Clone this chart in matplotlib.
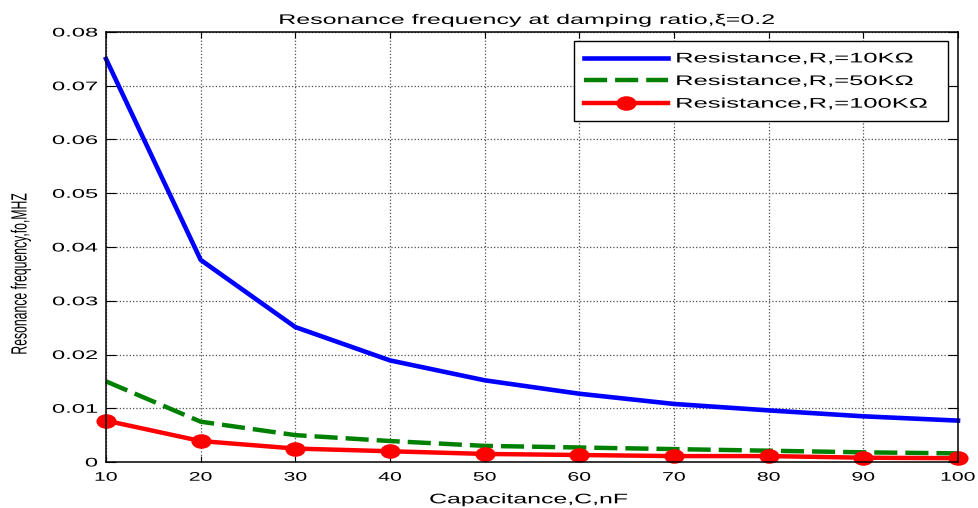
import matplotlib
matplotlib.use("Agg")
import matplotlib.pyplot as plt
from matplotlib.patheffects import AbstractPathEffect
from matplotlib.transforms import Affine2D
from matplotlib.path import Path
import numpy as np

# ---- data -------------------------------------------------------------
capacitance_nf = [10, 20, 30, 40, 50, 60, 70, 80, 90, 100]
freq_r10k = [0.0750, 0.0376, 0.0251, 0.0189, 0.0152, 0.0127, 0.0108, 0.0096, 0.0085, 0.0077]
freq_r50k = [0.0150, 0.0075, 0.0050, 0.0039, 0.0030, 0.0027, 0.0024, 0.0021, 0.0018, 0.0016]
freq_r100k = [0.0077, 0.0039, 0.0025, 0.0020, 0.0015, 0.0013, 0.0011, 0.0011, 0.0008, 0.0007]
series_labels = ["Resistance,R,=10K\u03a9", "Resistance,R,=50K\u03a9", "Resistance,R,=100K\u03a9"]
x_ticks = [10, 20, 30, 40, 50, 60, 70, 80, 90, 100]
y_ticks = [0, 0.01, 0.02, 0.03, 0.04, 0.05, 0.06, 0.07, 0.08]
y_tick_labels = ["0", "0.01", "0.02", "0.03", "0.04", "0.05", "0.06", "0.07", "0.08"]

plt.rcParams["font.family"] = ["Liberation Sans", "DejaVu Sans"]


class WideText(AbstractPathEffect):
    """Draw text glyphs widened horizontally about an anchor edge."""

    def __init__(self, factor=1.8, anchor="center"):
        super().__init__()
        self.factor = factor
        self.anchor = anchor

    def draw_path(self, renderer, gc, tpath, affine, rgbFace=None):
        if len(tpath.vertices) == 0:
            return
        ext = tpath.get_extents(affine)
        if self.anchor == "left":
            ax0 = ext.x0
        elif self.anchor == "right":
            ax0 = ext.x1
        else:
            ax0 = 0.5 * (ext.x0 + ext.x1)
        widen = Affine2D().translate(-ax0, 0).scale(self.factor, 1).translate(ax0, 0)
        renderer.draw_path(gc, tpath, affine + widen, rgbFace)


W, H = 979, 508
fig = plt.figure(figsize=(W / 100, H / 100), dpi=100)
fig.patch.set_facecolor("white")
ax = fig.add_axes([106 / W, 46 / H, 852 / W, 430 / H])

# slightly wide ellipse marker
circ = Path.unit_circle()
ellipse = Path(circ.vertices * np.array([1.45, 1.0]), circ.codes)

ax.plot(capacitance_nf, freq_r10k, color="#0000ff", lw=3.3, label=series_labels[0],
        clip_on=False)
ax.plot(capacitance_nf, freq_r50k, color="#008000", lw=3.2, linestyle=(0, (5.2, 1.8)),
        label=series_labels[1], clip_on=False)
ax.plot(capacitance_nf, freq_r100k, color="#ff0000", lw=3.2, marker=ellipse, ms=13,
        mew=1.5, mfc="#ff0000", mec="#ff0000", label=series_labels[2], clip_on=False)

ax.set_xlim(10, 100)
ax.set_ylim(0, 0.08)
ax.set_xticks(x_ticks)
ax.set_yticks(y_ticks, labels=y_tick_labels)

ax.grid(True, linestyle=":", color="0.3", linewidth=0.9)
ax.tick_params(direction="in", top=True, right=True, width=0.8, labelsize=9,
               color="black", labelcolor="black")
ax.tick_params(axis="x", length=4.3, pad=7)
ax.tick_params(axis="y", length=7, pad=6)
for sp in ax.spines.values():
    sp.set_linewidth(1.1)
    sp.set_color("black")

for lbl in ax.get_xticklabels():
    lbl.set_path_effects([WideText(1.7, "center")])
for lbl in ax.get_yticklabels():
    lbl.set_path_effects([WideText(1.9, "right")])

title = ax.set_title("Resonance frequency at damping ratio,\u03be=0.2", fontsize=10,
                     pad=5.8, x=0.4945)
title.set_path_effects([WideText(1.8, "center")])

xl = ax.set_xlabel("Capacitance,C,nF", fontsize=10, va="top")
ax.xaxis.set_label_coords(0.496, -0.0705)
xl.set_path_effects([WideText(1.79, "center")])

yl = ax.set_ylabel("Resonance frequency,fo,MHZ", fontsize=8.8, va="center", ha="center")
ax.yaxis.set_label_coords(-0.0998, 0.438)
yl.set_path_effects([WideText(1.8, "center")])

leg = ax.legend(loc="upper left",
                bbox_to_anchor=(574 / W, 1 - 120 / H, (948 - 574) / W, 79 / H),
                bbox_transform=fig.transFigure, mode="expand", borderaxespad=0,
                fontsize=10, handlelength=6, handletextpad=0.6, borderpad=0.75,
                labelspacing=0.62, numpoints=1, fancybox=False, framealpha=1,
                edgecolor="black")
leg.get_frame().set_linewidth(1.0)
for t in leg.get_texts():
    t.set_path_effects([WideText(1.84, "left")])

fig.savefig("out.png", dpi=100, facecolor="white")
